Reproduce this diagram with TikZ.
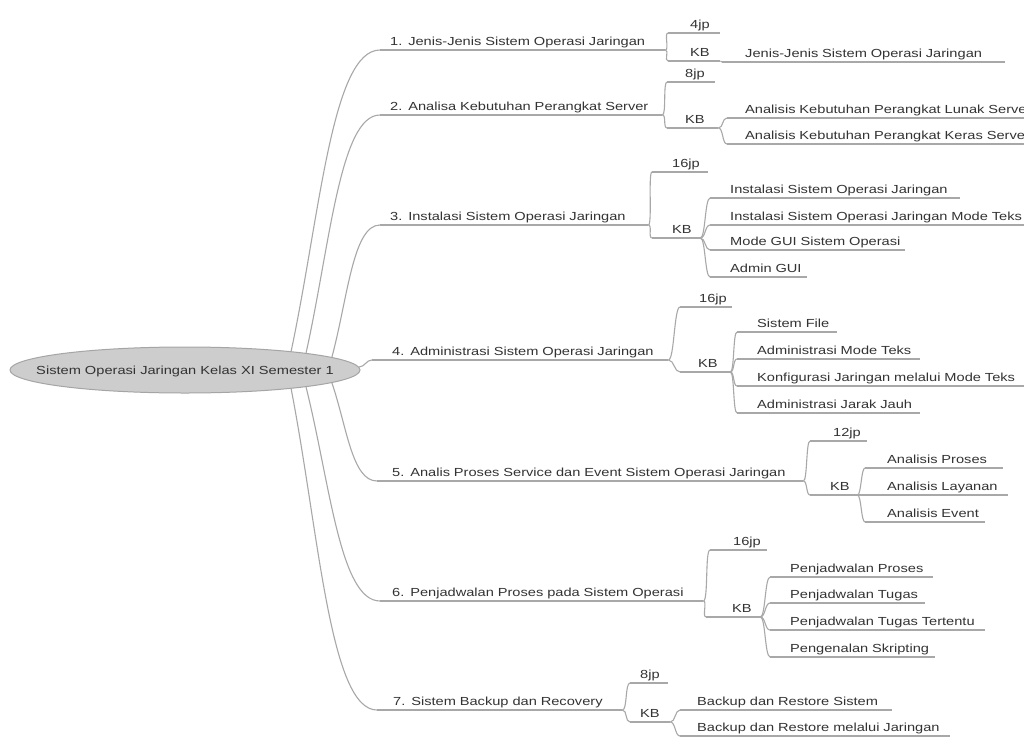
\documentclass[tikz,border=0pt]{standalone}
\usepackage{fontspec}
\setmainfont{Liberation Sans}[FakeStretch=1.25]
\usetikzlibrary{shapes.geometric}
\definecolor{edgec}{HTML}{A8A8A8}
\definecolor{txtc}{HTML}{333333}
\definecolor{rootfill}{HTML}{CDCDCD}
\definecolor{rootline}{HTML}{A5A5A5}
\tikzset{
  edge/.style={draw=edgec, line width=1.1pt},
  topic/.style={anchor=south west, inner xsep=0pt, inner ysep=0pt, text height=9pt, text depth=4pt,
    align=left, text=txtc, font=\fontsize{11.7}{14}\selectfont},
  rootnode/.style={ellipse, minimum width=350pt, minimum height=46pt, inner sep=0pt,
    text height=8.4pt, text depth=0pt,
    fill=rootfill, draw=rootline, line width=1pt, text=txtc, font=\fontsize{11.7}{14}\selectfont}
}
\newcommand\topic[6]{\node[topic, text width=#4pt] (#1) at (#2,#3) {\mbox{\hspace*{#5pt}#6}};
  \draw[edge] (#1.south west) -- (#1.south east);}
\newcommand\brk[3]{\draw[edge] (#1.south east) .. controls +(#3,0) and +(-#3,0) .. (#2.south west);}
\begin{document}
\begin{tikzpicture}[x=1pt,y=-1pt]
\useasboundingbox (0,0) rectangle (1024,736);
\clip (0,0) rectangle (1024,736);
\fill[white] (0,0) rectangle (1024,736);

% level 1 topics
\topic{n1}{380}{50}{285}{10}{1. Jenis-Jenis Sistem Operasi Jaringan}
\topic{n2}{380}{115}{282}{10}{2. Analisa Kebutuhan Perangkat Server}
\topic{n3}{380}{225}{268}{10}{3. Instalasi Sistem Operasi Jaringan}
\topic{n4}{372}{360}{296}{20}{4. Administrasi Sistem Operasi Jaringan}
\topic{n5}{377}{481}{426}{15}{5. Analis Proses Service dan Event Sistem Operasi Jaringan}
\topic{n6}{380}{601}{323}{12}{6. Penjadwalan Proses pada Sistem Operasi}
\topic{n7}{377}{710}{245}{16}{7. Sistem Backup dan Recovery}

% level 2 (jp / KB)
\topic{j1}{668}{33}{52}{22}{4jp}
\topic{k1}{668}{61}{52}{22}{KB}
\topic{j2}{667}{82}{48}{18}{8jp}
\topic{k2}{667}{128}{51}{18}{KB}
\topic{j3}{652}{172}{56}{20}{16jp}
\topic{k3}{652}{238}{48}{20}{KB}
\topic{j4}{680}{307}{52}{19}{16jp}
\topic{k4}{680}{372}{50}{18}{KB}
\topic{j5}{810}{441}{57}{23}{12jp}
\topic{k5}{810}{495}{47}{20}{KB}
\topic{j6}{710}{550}{57}{23}{16jp}
\topic{k6}{706}{617}{54}{26}{KB}
\topic{j7}{630}{683}{38}{10}{8jp}
\topic{k7}{630}{722}{40}{10}{KB}

% leaves
\topic{l11}{722}{62}{283}{23}{Jenis-Jenis Sistem Operasi Jaringan}
\topic{l21}{727}{118}{310}{18}{Analisis Kebutuhan Perangkat Lunak Server}
\topic{l22}{727}{144}{310}{18}{Analisis Kebutuhan Perangkat Keras Server}
\topic{l31}{710}{198}{250}{20}{Instalasi Sistem Operasi Jaringan}
\topic{l32}{710}{225}{320}{20}{Instalasi Sistem Operasi Jaringan Mode Teks}
\topic{l33}{710}{250}{195}{20}{Mode GUI Sistem Operasi}
\topic{l34}{710}{277}{97}{20}{Admin GUI}
\topic{l41}{737}{332}{100}{20}{Sistem File}
\topic{l42}{737}{359}{183}{20}{Administrasi Mode Teks}
\topic{l43}{737}{386}{290}{20}{Konfigurasi Jaringan melalui Mode Teks}
\topic{l44}{737}{413}{183}{20}{Administrasi Jarak Jauh}
\topic{l51}{865}{468}{138}{22}{Analisis Proses}
\topic{l52}{865}{495}{143}{22}{Analisis Layanan}
\topic{l53}{865}{522}{120}{22}{Analisis Event}
\topic{l61}{770}{577}{163}{20}{Penjadwalan Proses}
\topic{l62}{770}{603}{155}{20}{Penjadwalan Tugas}
\topic{l63}{770}{630}{215}{20}{Penjadwalan Tugas Tertentu}
\topic{l64}{770}{657}{165}{20}{Pengenalan Skripting}
\topic{l71}{680}{710}{212}{17}{Backup dan Restore Sistem}
\topic{l72}{680}{736}{270}{17}{Backup dan Restore melalui Jaringan}

% root
\node[rootnode] (root) at (185,370) {\makebox[0pt]{Sistem Operasi Jaringan Kelas XI Semester 1}};

% root edges
\draw[edge] (root.10) .. controls +(29,-137) and +(-48,0) .. (n1.south west);
\draw[edge] (root.8) .. controls +(24,-108) and +(-40,0) .. (n2.south west);
\draw[edge] (root.5) .. controls +(16,-60) and +(-27,0) .. (n3.south west);
\draw[edge] (root.1) .. controls +(6,0) and +(-6,0) .. (n4.south west);
\draw[edge] (root.-5) .. controls +(15,44) and +(-25,0) .. (n5.south west);
\draw[edge] (root.-8) .. controls +(24,96) and +(-40,0) .. (n6.south west);
\draw[edge] (root.-10) .. controls +(28,145) and +(-47,0) .. (n7.south west);

% level 1 -> level 2
\brk{n1}{j1}{4}\brk{n1}{k1}{4}
\brk{n2}{j2}{4}\brk{n2}{k2}{4}
\brk{n3}{j3}{4}\brk{n3}{k3}{4}
\brk{n4}{j4}{6}\brk{n4}{k4}{6}
\brk{n5}{j5}{4}\brk{n5}{k5}{4}
\brk{n6}{j6}{5}\brk{n6}{k6}{4}
\brk{n7}{j7}{5}\brk{n7}{k7}{5}

% KB -> leaves
\brk{k1}{l11}{1}
\brk{k2}{l21}{5}\brk{k2}{l22}{5}
\brk{k3}{l31}{5}\brk{k3}{l32}{5}\brk{k3}{l33}{5}\brk{k3}{l34}{5}
\brk{k4}{l41}{4}\brk{k4}{l42}{4}\brk{k4}{l43}{4}\brk{k4}{l44}{4}
\brk{k5}{l51}{4}\brk{k5}{l52}{4}\brk{k5}{l53}{4}
\brk{k6}{l61}{5}\brk{k6}{l62}{5}\brk{k6}{l63}{5}\brk{k6}{l64}{5}
\brk{k7}{l71}{5}\brk{k7}{l72}{5}
\end{tikzpicture}
\end{document}
